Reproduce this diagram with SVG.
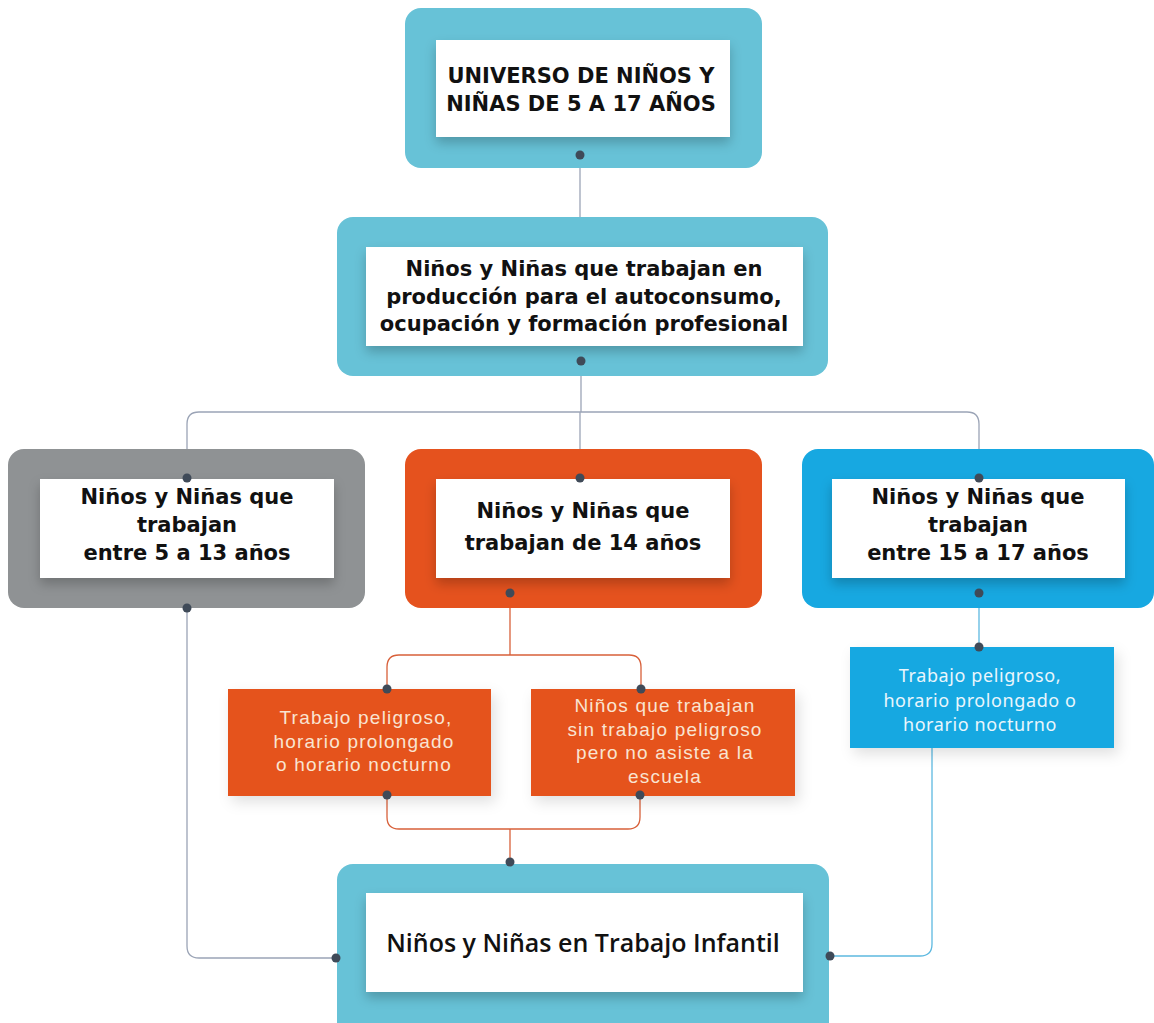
<svg xmlns="http://www.w3.org/2000/svg" width="1154" height="1023" viewBox="0 0 1154 1023">
<defs>
<filter id="sh" x="-10%" y="-20%" width="120%" height="150%">
<feDropShadow dx="0" dy="6" stdDeviation="6" flood-color="#000" flood-opacity="0.22"/>
</filter>
<filter id="sh2" x="-10%" y="-20%" width="125%" height="150%">
<feDropShadow dx="4" dy="6" stdDeviation="7" flood-color="#000" flood-opacity="0.12"/>
</filter>
</defs>
<style>
.inner{fill:#fff;filter:url(#sh)}
.teal{fill:#67C2D7}
.gray{fill:#8F9294}
.orange{fill:#E5521E}
.blue{fill:#17A8E1}
.t{font-family:"DejaVu Sans","Liberation Sans",sans-serif;font-weight:700;fill:#111;text-anchor:middle;font-size:21px}
.s{font-family:"Liberation Sans",Arial,sans-serif;font-weight:400;fill:#F9E4D2;text-anchor:middle;font-size:19px;letter-spacing:1.2px}
.sb{font-family:"Noto Sans","Liberation Sans",sans-serif;font-weight:400;fill:#EAF6FC;text-anchor:middle;font-size:18px;letter-spacing:0.6px}
.dot{fill:#3F4A58}
.cg{fill:none;stroke:#9BA4B6;stroke-width:1.3}
.co{fill:none;stroke:#D8603A;stroke-width:1.3}
.cb{fill:none;stroke:#5DB9E0;stroke-width:1.3}
</style>

<g id="connectors">
<path class="cg" d="M580 155 V217"/>
<path class="cg" d="M581 361 V412"/>
<path class="cg" d="M187 478 V424 Q187 412 199 412 H967 Q979 412 979 424 V478"/>
<path class="cg" d="M580 412 V478"/>
<path class="cg" d="M187 608 V946 Q187 958 199 958 H336"/>
<path class="cb" d="M979 593 V647"/>
<path class="cb" d="M932 748 V944 Q932 956 920 956 H830"/>
<path class="co" d="M510 593 V655"/>
<path class="co" d="M387 689 V667 Q387 655 399 655 H629 Q641 655 641 667 V689"/>
<path class="co" d="M387 795 V817 Q387 829 399 829 H628 Q640 829 640 817 V795"/>
<path class="co" d="M510 829 V862"/>
</g>

<g id="n1">
<rect class="teal" x="405" y="8" width="357" height="160" rx="16"/>
<rect class="inner" x="436" y="40" width="294" height="97"/>
<text class="t" x="581" y="83">UNIVERSO DE NIÑOS Y</text>
<text class="t" x="581" y="111">NIÑAS DE 5 A 17 AÑOS</text>
<circle class="dot" cx="580" cy="155" r="4.5"/>
</g>

<g id="n2">
<rect class="teal" x="337" y="217" width="491" height="159" rx="16"/>
<rect class="inner" x="366" y="247" width="437" height="99"/>
<text class="t" x="584" y="276">Niños y Niñas que trabajan en</text>
<text class="t" x="584" y="304">producción para el autoconsumo,</text>
<text class="t" x="584" y="331">ocupación y formación profesional</text>
<circle class="dot" cx="581" cy="361" r="4.5"/>
</g>

<g id="n3">
<rect class="gray" x="8" y="449" width="357" height="159" rx="16"/>
<rect class="inner" x="40" y="479" width="294" height="99"/>
<text class="t" x="187" y="504">Niños y Niñas que</text>
<text class="t" x="187" y="532">trabajan</text>
<text class="t" x="187" y="560">entre 5 a 13 años</text>
<circle class="dot" cx="187" cy="478" r="4.5"/>
<circle class="dot" cx="187" cy="608" r="4.5"/>
</g>

<g id="n4">
<rect class="orange" x="405" y="449" width="357" height="159" rx="16"/>
<rect class="inner" x="436" y="479" width="294" height="99"/>
<text class="t" x="583" y="518">Niños y Niñas que</text>
<text class="t" x="583" y="550">trabajan de 14 años</text>
<circle class="dot" cx="580" cy="478" r="4.5"/>
<circle class="dot" cx="510" cy="593" r="4.5"/>
</g>

<g id="n5">
<rect class="blue" x="802" y="449" width="352" height="159" rx="16"/>
<rect class="inner" x="832" y="479" width="293" height="99"/>
<text class="t" x="978" y="504">Niños y Niñas que</text>
<text class="t" x="978" y="532">trabajan</text>
<text class="t" x="978" y="560">entre 15 a 17 años</text>
<circle class="dot" cx="979" cy="478" r="4.5"/>
<circle class="dot" cx="979" cy="593" r="4.5"/>
</g>

<g id="n6">
<rect class="blue" x="850" y="647" width="264" height="101" filter="url(#sh2)"/>
<text class="sb" x="980" y="682">Trabajo peligroso,</text>
<text class="sb" x="980" y="707">horario prolongado o</text>
<text class="sb" x="980" y="731">horario nocturno</text>
<circle class="dot" cx="979" cy="647" r="4.5"/>
</g>

<g id="n7">
<rect class="orange" x="228" y="689" width="263" height="107" filter="url(#sh2)"/>
<text class="s" x="366" y="724">Trabajo peligroso,</text>
<text class="s" x="364" y="748">horario prolongado</text>
<text class="s" x="364" y="771">o horario nocturno</text>
<circle class="dot" cx="387" cy="689" r="4.5"/>
<circle class="dot" cx="387" cy="795" r="4.5"/>
</g>

<g id="n8">
<rect class="orange" x="531" y="689" width="264" height="107" filter="url(#sh2)"/>
<text class="s" x="665" y="712">Niños que trabajan</text>
<text class="s" x="665" y="736">sin trabajo peligroso</text>
<text class="s" x="665" y="759">pero no asiste a la</text>
<text class="s" x="665" y="783">escuela</text>
<circle class="dot" cx="641" cy="689" r="4.5"/>
<circle class="dot" cx="640" cy="795" r="4.5"/>
</g>

<g id="n9">
<rect class="teal" x="337" y="864" width="492" height="175" rx="16"/>
<rect class="inner" x="366" y="893" width="437" height="99"/>
<text style="font-family:'Open Sans','Liberation Sans',sans-serif;font-weight:600;font-size:25px;fill:#111;text-anchor:middle" x="583" y="952">Niños y Niñas en Trabajo Infantil</text>
<circle class="dot" cx="510" cy="862" r="4.5"/>
<circle class="dot" cx="336" cy="958" r="4.5"/>
<circle class="dot" cx="830" cy="956" r="4.5"/>
</g>
</svg>
